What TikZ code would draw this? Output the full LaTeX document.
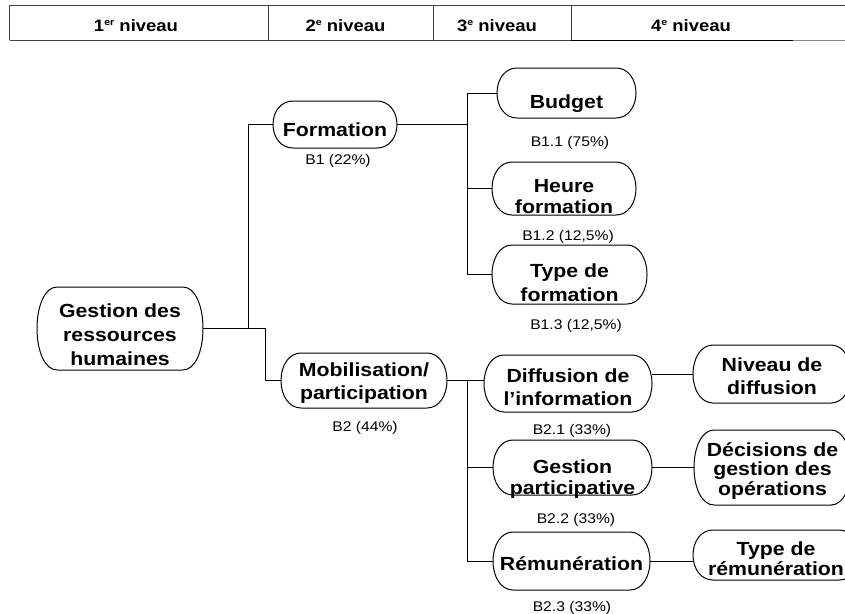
\documentclass[tikz,border=0pt]{standalone}
\usepackage{fontspec}
\setmainfont{Liberation Sans}[FakeStretch=1.12]
\usetikzlibrary{calc}
\newcommand\ntxt[3]{\raisebox{#1}[\height][\depth]{\fontsize{19}{#2}\selectfont\begin{tabular}{@{}c@{}}#3\end{tabular}}}
\newcommand\supx[1]{\raisebox{5.5pt}{\fontsize{9.5}{10}\selectfont #1}}
\begin{document}
\begin{tikzpicture}[x=1pt,y=-1pt]
\tikzset{
 pill/.style={rectangle, inner sep=0pt, outer sep=0pt, font=\bfseries},
 outl/.style={draw=black, line width=1pt},
 conn/.style={draw=black, line width=0.9pt},
 lab/.style={font=\fontsize{14}{16}\selectfont, anchor=base, inner sep=0pt},
 hdr/.style={font=\bfseries\fontsize{16.5}{18}\selectfont, anchor=base, inner sep=0pt},
 tline/.style={draw=black!75, line width=1pt}
}
\useasboundingbox (0,0) rectangle (845,613);
\clip (0,0) rectangle (845,613);

% header table
\draw[tline] (9.5,40) -- (9.5,5.5) -- (845,5.5);
\draw[tline] (9.5,40) -- (571,40);
\draw[draw=black, line width=1.6pt] (571,40.5) -- (793,40.5);
\draw[draw=black!45, line width=1pt] (793,40) -- (845,40);
\foreach \x in {268,433,571} \draw[tline] (\x,5.5) -- (\x,40);
\node[hdr] (h1) at (136,31) {1\supx{er} niveau};
\node[hdr] (h2) at (345.5,31) {2\supx{e} niveau};
\node[hdr] (h3) at (497,31) {3\supx{e} niveau};
\node[hdr] (h4) at (691,31) {4\supx{e} niveau};

% nodes
\node[pill, minimum width=166pt, minimum height=83pt] (grh) at (120,328.5) {\ntxt{-7.7pt}{24pt}{Gestion des\\ressources\\humaines}};
\node[pill, minimum width=124pt, minimum height=47pt] (form) at (335,124.5) {\ntxt{-8pt}{22pt}{Formation}};
\node[pill, minimum width=139pt, minimum height=50pt] (budget) at (566.5,93) {\ntxt{-11pt}{22pt}{Budget}};
\node[pill, minimum width=144pt, minimum height=53pt] (heure) at (564,188.5) {\ntxt{-9.8pt}{21pt}{Heure\\formation}};
\node[pill, minimum width=155pt, minimum height=59pt] (typef) at (569.5,274.5) {\ntxt{-10pt}{24pt}{Type de\\formation}};
\node[pill, minimum width=166pt, minimum height=55pt] (mob) at (364,380.5) {\ntxt{-3pt}{23pt}{Mobilisation/\\participation}};
\node[pill, minimum width=168pt, minimum height=57pt] (diff) at (568,383.5) {\ntxt{-5.4pt}{23pt}{Diffusion de\\l'information}};
\node[pill, minimum width=159pt, minimum height=55pt] (gpart) at (572.5,467.5) {\ntxt{-11.8pt}{21pt}{Gestion\\participative}};
\node[pill, minimum width=157pt, minimum height=58pt] (rem) at (571.5,561) {\ntxt{-4.6pt}{22pt}{Rémunération}};
\node[pill, minimum width=158pt, minimum height=58pt] (niv) at (772,374) {\ntxt{-4.6pt}{23pt}{Niveau de\\diffusion}};
\node[pill, minimum width=157pt, minimum height=75pt] (dec) at (772.5,467.5) {\ntxt{-4pt}{18.5pt}{Décisions de\\gestion des\\opérations}};
\node[pill, minimum width=166pt, minimum height=50pt] (typer) at (776,555) {\ntxt{-6pt}{20pt}{Type de\\rémunération}};

% outlines
\def\rr{20}
\foreach \n in {grh,form,budget,heure,typef,mob,diff,gpart,rem,niv,dec,typer}{
  \draw[outl] ($(\n.north west)+(\rr,0)$) -- ($(\n.north east)+(-\rr,0)$)
   .. controls ($(\n.north east)+(-0.4*\rr,0)$) and ($(\n.east)!0.55!(\n.north east)$) .. (\n.east)
   .. controls ($(\n.east)!0.55!(\n.south east)$) and ($(\n.south east)+(-0.4*\rr,0)$) .. ($(\n.south east)+(-\rr,0)$)
   -- ($(\n.south west)+(\rr,0)$)
   .. controls ($(\n.south west)+(0.4*\rr,0)$) and ($(\n.west)!0.55!(\n.south west)$) .. (\n.west)
   .. controls ($(\n.west)!0.55!(\n.north west)$) and ($(\n.north west)+(0.4*\rr,0)$) .. cycle;
}

% labels
\node[lab] (l1) at (338,164) {B1 (22\%)};
\node[lab] (l11) at (570,146) {B1.1 (75\%)};
\node[lab] (l12) at (568,240) {B1.2 (12,5\%)};
\node[lab] (l13) at (576,329) {B1.3 (12,5\%)};
\node[lab] (l2) at (365,431) {B2 (44\%)};
\node[lab] (l21) at (572,434.5) {B2.1 (33\%)};
\node[lab] (l22) at (576,523) {B2.2 (33\%)};
\node[lab] (l23) at (572,611) {B2.3 (33\%)};

% connectors
\coordinate (j1) at (248,328.5);
\coordinate (j2) at (265,328.5);
\coordinate (v1) at (467,0);
\draw[conn] (grh.east) -- (j2) |- (mob.west);
\draw[conn] (j1) |- (form.west);
\draw[conn] (form.east) -- (form.east -| v1);
\draw[conn] (budget.west) -| (v1 |- typef.west) -- (typef.west);
\draw[conn] (v1 |- heure.west) -- (heure.west);
\draw[conn] (mob.east) -- (mob.east -| diff.west);
\draw[conn] (v1 |- mob.east) -- (v1 |- rem.west) -- (rem.west);
\draw[conn] (v1 |- gpart.west) -- (gpart.west);
\draw[conn] (niv.west -| diff.east) -- (niv.west);
\draw[conn] (gpart.east) -- (dec.west);
\draw[conn] (rem.east) -- (rem.east -| typer.west);
\end{tikzpicture}
\end{document}
